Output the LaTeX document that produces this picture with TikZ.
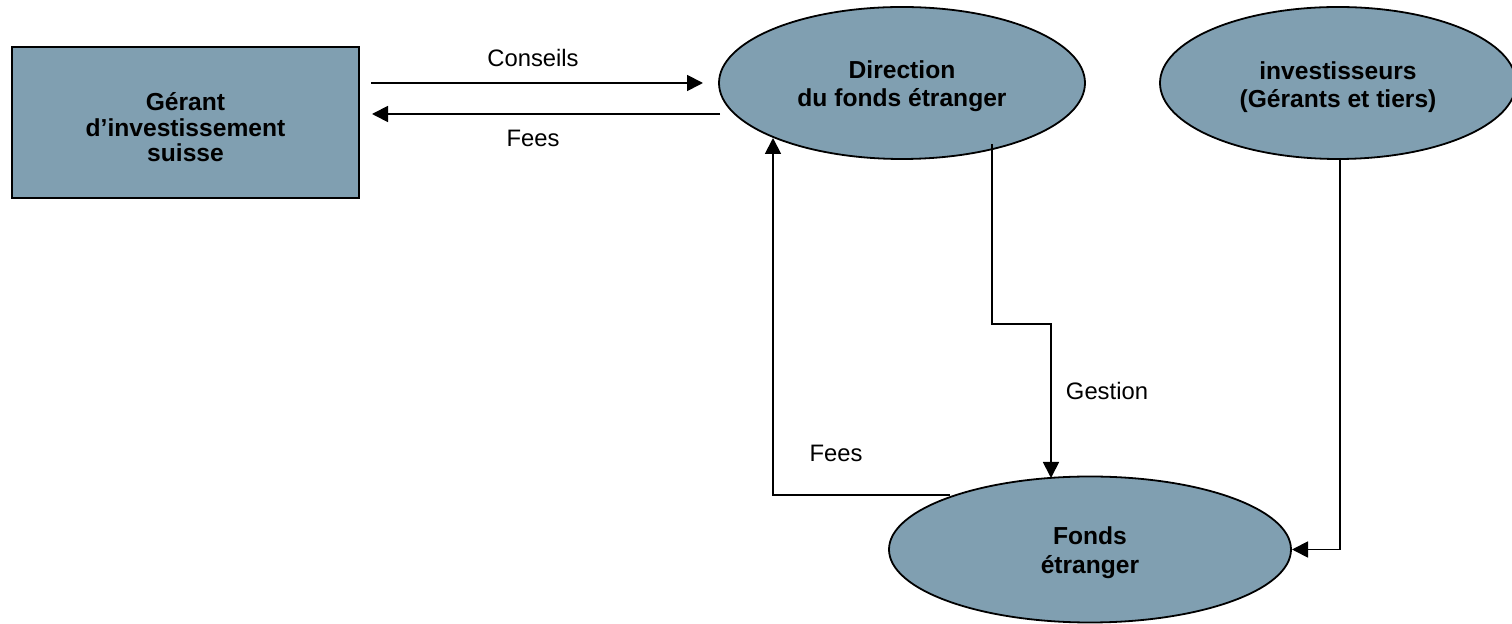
\documentclass[tikz,border=0pt]{standalone}
\usepackage{fontspec}
\setmainfont{Liberation Sans}
\usetikzlibrary{shapes.geometric,arrows.meta,calc}
\definecolor{boxfill}{RGB}{128,159,177}
\tikzset{
  every picture/.style={x=0.5pt,y=-0.5pt},
  boxnode/.style={draw=black,line width=1pt,fill=boxfill,inner sep=0pt},
  ellnode/.style={ellipse,draw=black,line width=0.9pt,fill=boxfill,inner sep=0pt},
  boldtxt/.style={inner sep=0pt,align=center,font=\fontsize{12.3}{#1}\selectfont\bfseries},
  lbl/.style={font=\fontsize{11.9}{13}\selectfont,inner sep=0pt},
  conn/.style={line width=0.9pt,-{Triangle[length=8pt,width=8pt]}},
}
\begin{document}
\begin{tikzpicture}
\useasboundingbox (0,0) rectangle (1512,624);
% shapes
\node[boxnode,minimum width=173.5pt,minimum height=75.5pt] (gerant) at (185.5,122.5) {};
\node[ellnode,minimum width=183pt,minimum height=76pt] (dir) at (902,83) {};
\node[ellnode,minimum width=178pt,minimum height=76pt] (inv) at (1338,83) {};
\node[ellnode,minimum width=201pt,minimum height=73pt] (fonds) at (1090,549.5) {};
% texts
\node[boldtxt=12.75pt] (tgerant) at ($(gerant.center)+(0,5)$) {Gérant\\d’investissement\\suisse};
\node[boldtxt=14pt] (tdir) at ($(dir.center)+(0,3)$) {Direction\\du fonds étranger};
\node[boldtxt=14pt] (tinv) at ($(inv.center)+(0,4)$) {investisseurs\\(Gérants et tiers)};
\node[boldtxt=14.5pt] (tfonds) at ($(fonds.center)+(0,3)$) {Fonds\\étranger};
% coordinates
\coordinate (c1) at (371,83);
\coordinate (c2) at (703,83);
\coordinate (f1) at (720,114);
\coordinate (f2) at (372,114);
\coordinate (g0) at (992,144);
\coordinate (g1) at (992,324);
\coordinate (g2) at (1051,324);
\coordinate (g3) at (1051,478);
\coordinate (h0) at (950,495);
\coordinate (h1) at (773,495);
\coordinate (h2) at (773,138);
\coordinate (i0) at (1340,158);
\coordinate (i1) at (1340,549.5);
\coordinate (i2) at (1292,549.5);
% connectors
\draw[conn] (c1) -- (c2);
\draw[conn] (f1) -- (f2);
\draw[conn] (g0) -- (g1) -- (g2) -- (g3);
\draw[conn] (h0) -- (h1) -- (h2);
\draw[conn] (i0) -- (i1) -- (i2);
% labels
\node[lbl] (lcons) at (533,58) {Conseils};
\node[lbl] (lfees1) at (533,138) {Fees};
\node[lbl] (lgest) at (1107,391) {Gestion};
\node[lbl] (lfees2) at (836,453) {Fees};
\end{tikzpicture}
\end{document}
